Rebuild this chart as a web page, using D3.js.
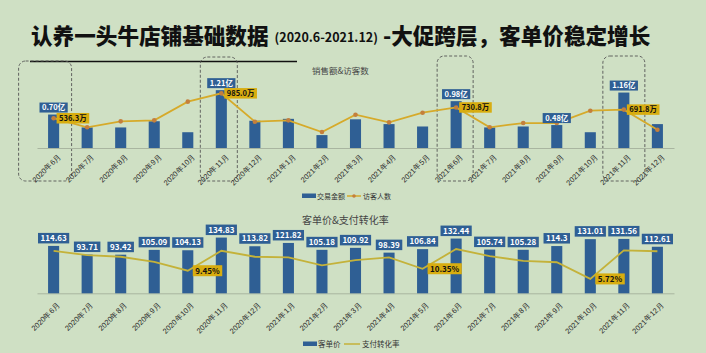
<!DOCTYPE html>
<html lang="zh">
<head>
<meta charset="UTF-8">
<title>认养一头牛店铺基础数据</title>
<script src="https://cdn.jsdelivr.net/npm/d3@7/dist/d3.min.js"></script>
<style>
    body { margin: 0; background: #cfe0c4; }
    svg { display: block; font-family: "Noto Sans CJK SC", sans-serif; }
    .axis path { stroke: #a9b5a0; }
    .axis text { font-size: 7.5px; fill: #2a2a2a; }
</style>
</head>
<body>
<script>
    // 月份
    const months = ['2020年6月', '2020年7月', '2020年8月', '2020年9月', '2020年10月', '2020年11月',
        '2020年12月', '2021年1月', '2021年2月', '2021年3月', '2021年4月', '2021年5月', '2021年6月',
        '2021年7月', '2021年8月', '2021年9月', '2021年10月', '2021年11月', '2021年12月'];

    // 交易金额（亿）
    const sales = [0.70, 0.43, 0.43, 0.56, 0.33, 1.21, 0.57, 0.61, 0.27, 0.60,
        0.50, 0.45, 0.98, 0.43, 0.45, 0.48, 0.33, 1.16, 0.50];
    // 访客人数（万）
    const visitors = [536.3, 373, 480, 498, 835, 985.0, 474, 498, 288, 600,
        462, 636, 730.8, 373, 450, 450, 672, 691.8, 330];
    // 客单价
    const price = [114.63, 93.71, 93.42, 105.09, 104.13, 134.83, 113.82, 121.82, 105.18, 109.92,
        98.39, 106.84, 132.44, 105.74, 105.28, 114.3, 131.01, 131.56, 112.61];
    // 支付转化率（%）
    const rate = [18.5, 16.5, 15.8, 13.5, 9.45, 18.5, 15.8, 15.5, 11.9, 14.3,
        15.5, 10.35, 19.3, 16.1, 13.9, 13.3, 5.72, 18.7, 18.3];

    // 需要标注的月份
    const salesLabelIdx = [0, 5, 12, 15, 17];
    const visitorLabelIdx = [0, 5, 12, 17];
    const rateLabelIdx = [4, 11, 16];
    // 大促月份的虚线框
    const promoBoxes = [
        {m: '2020年6月', l: 35, r: 18, top: 61},
        {m: '2020年11月', l: 21, r: 16, top: 57},
        {m: '2021年6月', l: 19, r: 17, top: 56},
        {m: '2021年11月', l: 21, r: 21, top: 56}
    ];

    const w = 706, h = 353;
    const blue = '#2f5f94', gold = '#d6aa2a', yellow = '#d8ad10', olive = '#c4b23a';

    let svg = d3.select('body').append('svg')
        .attr('width', w)
        .attr('height', h);

    // 标题
    let title = svg.append('text')
        .attr('x', 31)
        .attr('y', 44)
        .attr('font-size', 21.6)
        .attr('font-weight', 900)
        .attr('fill', '#111');
    title.append('tspan').text('认养一头牛店铺基础数据');
    title.append('tspan').attr('font-size', 12.5).attr('font-weight', 700).attr('dx', 6).attr('dy', -2)
        .text('(2020.6-2021.12)');
    title.append('tspan').attr('dx', 5).attr('dy', 2).text('-大促跨层，客单价稳定增长');

    svg.append('line')
        .attr('x1', 30).attr('x2', 297)
        .attr('y1', 61.5).attr('y2', 61.5)
        .attr('stroke', '#111').attr('stroke-width', 1.5);

    // 横向比例尺（两个图共用）
    let x = d3.scaleBand()
        .domain(months)
        .range([37, 674])
        .paddingInner(0.67)
        .paddingOuter(0.33);
    const cx = d => x(d) + x.bandwidth() / 2;

    // ---------- 上图：销售额 & 访客数 ----------
    const base1 = 148;
    let ySales = d3.scaleLinear().domain([0, 1.5]).range([base1, base1 - 71.7]);
    let yVis = d3.scaleLinear().domain([0, 1000]).range([base1, base1 - 55.5]);

    svg.append('text')
        .attr('x', 312).attr('y', 73.5)
        .attr('font-size', 8.5).attr('fill', '#444')
        .text('销售额&访客数');

    // 虚线框
    svg.selectAll('.promo')
        .data(promoBoxes)
        .enter()
        .append('rect')
        .attr('class', 'promo')
        .attr('x', d => cx(d.m) - d.l)
        .attr('y', d => d.top)
        .attr('width', d => d.l + d.r)
        .attr('height', d => 181 - d.top)
        .attr('rx', 7)
        .attr('fill', 'none')
        .attr('stroke', '#555')
        .attr('stroke-width', 0.9)
        .attr('stroke-dasharray', '3,2');

    let axis1 = svg.append('g')
        .attr('class', 'axis')
        .attr('transform', 'translate(0,' + base1 + ')')
        .call(d3.axisBottom(x).tickSize(0));
    axis1.selectAll('text')
        .attr('text-anchor', 'end')
        .attr('transform', 'translate(4,5) rotate(-45)')
        .attr('dy', '0.35em');

    svg.selectAll('.bar1')
        .data(sales)
        .enter()
        .append('rect')
        .attr('class', 'bar1')
        .attr('x', (d, i) => x(months[i]))
        .attr('y', d => ySales(d))
        .attr('width', x.bandwidth())
        .attr('height', d => base1 - ySales(d))
        .attr('fill', blue);

    let line1 = d3.line()
        .x((d, i) => cx(months[i]))
        .y(d => yVis(d));
    svg.append('path')
        .datum(visitors)
        .attr('d', line1)
        .attr('fill', 'none')
        .attr('stroke', gold)
        .attr('stroke-width', 1.8);
    svg.selectAll('.dot1')
        .data(visitors)
        .enter()
        .append('circle')
        .attr('class', 'dot1')
        .attr('cx', (d, i) => cx(months[i]))
        .attr('cy', d => yVis(d))
        .attr('r', 2.3)
        .attr('fill', '#c47f3c');

    // 标签（背景框 + 文字）
    function addLabel(px, py, text, opt) {
        let g = svg.append('g');
        let t = g.append('text')
            .attr('font-size', opt.size)
            .attr('font-weight', 700)
            .attr('fill', opt.color)
            .attr('text-anchor', 'middle')
            .attr('dy', '0.35em')
            .text(text);
        let tw = t.node().getComputedTextLength();
        let bw = tw + 5, bh = opt.h;
        let bx = opt.anchor === 'left' ? px : px - bw / 2;
        let by = opt.anchor === 'left' ? py - bh / 2 : py - bh;
        g.insert('rect', 'text')
            .attr('x', bx).attr('y', by)
            .attr('width', bw).attr('height', bh)
            .attr('fill', opt.fill);
        t.attr('x', bx + bw / 2).attr('y', by + bh / 2);
    }

    salesLabelIdx.forEach(i => {
        addLabel(cx(months[i]), ySales(sales[i]) - 2, sales[i].toFixed(2) + '亿',
            {size: 7.5, color: '#fff', fill: blue, h: 10});
    });
    visitorLabelIdx.forEach(i => {
        addLabel(cx(months[i]) + 3, yVis(visitors[i]), visitors[i].toFixed(1) + '万',
            {size: 7.5, color: '#111', fill: yellow, h: 10.5, anchor: 'left'});
    });

    // 上图图例
    let lg1 = svg.append('g').attr('font-size', 7).attr('fill', '#333');
    lg1.append('rect').attr('x', 302).attr('y', 193.5).attr('width', 14).attr('height', 4.5).attr('fill', blue);
    lg1.append('text').attr('x', 317).attr('y', 198.5).text('交易金额');
    lg1.append('line').attr('x1', 347).attr('x2', 361).attr('y1', 196).attr('y2', 196)
        .attr('stroke', gold).attr('stroke-width', 1.5);
    lg1.append('circle').attr('cx', 354).attr('cy', 196).attr('r', 1.8).attr('fill', '#c47f3c');
    lg1.append('text').attr('x', 363).attr('y', 198.5).text('访客人数');

    // ---------- 下图：客单价 & 支付转化率 ----------
    const base2 = 293.3;
    let yPrice = d3.scaleLinear().domain([0, 150]).range([base2, base2 - 62]);
    let yRate = d3.scaleLinear().domain([0, 20]).range([291.5, 247.5]);

    svg.append('text')
        .attr('x', 302).attr('y', 223.5)
        .attr('font-size', 10).attr('fill', '#444')
        .text('客单价&支付转化率');

    let axis2 = svg.append('g')
        .attr('class', 'axis')
        .attr('transform', 'translate(0,' + base2 + ')')
        .call(d3.axisBottom(x).tickSize(0));
    axis2.selectAll('text')
        .attr('text-anchor', 'end')
        .attr('transform', 'translate(3,8) rotate(-45)')
        .attr('dy', '0.35em');

    svg.selectAll('.bar2')
        .data(price)
        .enter()
        .append('rect')
        .attr('class', 'bar2')
        .attr('x', (d, i) => x(months[i]))
        .attr('y', d => yPrice(d))
        .attr('width', x.bandwidth())
        .attr('height', d => base2 - yPrice(d))
        .attr('fill', blue);

    let line2 = d3.line()
        .x((d, i) => cx(months[i]))
        .y(d => yRate(d));
    svg.append('path')
        .datum(rate)
        .attr('d', line2)
        .attr('fill', 'none')
        .attr('stroke', olive)
        .attr('stroke-width', 1.8);

    price.forEach((v, i) => {
        addLabel(cx(months[i]), yPrice(v) - 2.5, String(v),
            {size: 8, color: '#fff', fill: blue, h: 10.5});
    });
    rateLabelIdx.forEach(i => {
        addLabel(cx(months[i]) + 5, yRate(rate[i]), rate[i].toFixed(2) + '%',
            {size: 8, color: '#111', fill: yellow, h: 11, anchor: 'left'});
    });

    // 下图图例
    let lg2 = svg.append('g').attr('font-size', 7.5).attr('fill', '#333');
    lg2.append('rect').attr('x', 303).attr('y', 341.5).attr('width', 14).attr('height', 4.5).attr('fill', blue);
    lg2.append('text').attr('x', 318).attr('y', 346.5).text('客单价');
    lg2.append('line').attr('x1', 344).attr('x2', 360).attr('y1', 344).attr('y2', 344)
        .attr('stroke', olive).attr('stroke-width', 1.5);
    lg2.append('text').attr('x', 362).attr('y', 346.5).text('支付转化率');
</script>
</body>
</html>
